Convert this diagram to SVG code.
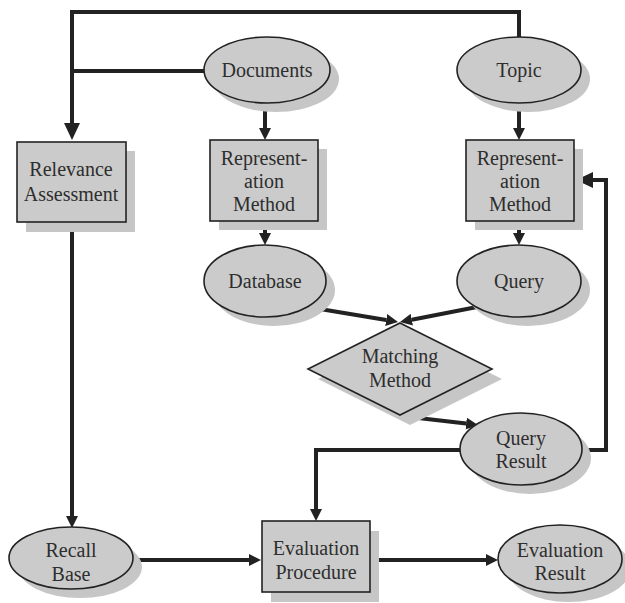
<svg xmlns="http://www.w3.org/2000/svg" width="625" height="603" viewBox="0 0 625 603">
  <defs>
    <style>
      .shape { fill: #cbcbcb; stroke: #222; stroke-width: 1.6; }
      .shadow { fill: #c6c6c6; stroke: none; }
      text { font-family: 'Liberation Serif', 'DejaVu Serif', serif; font-size: 20px; fill: #2e2e2e; text-anchor: middle; }
      .wire { fill: none; stroke: #222; stroke-width: 4; stroke-linejoin: miter; }
    </style>
    <marker id="arrow" markerUnits="userSpaceOnUse" markerWidth="12" markerHeight="12" refX="0" refY="6" orient="auto">
      <path d="M0,0 L12,6 L0,12 Z" fill="#222"/>
    </marker>
    <marker id="arrowBig" markerUnits="userSpaceOnUse" markerWidth="17" markerHeight="16" refX="0" refY="8" orient="auto">
      <path d="M0,0 L17,8 L0,16 Z" fill="#222"/>
    </marker>
  </defs>
  <rect width="625" height="603" fill="#ffffff"/>

  <!-- connectors -->
  <g id="connectors">
    <path class="wire" d="M519,37 V12 H72 V123" marker-end="url(#arrowBig)"/>
    <path class="wire" d="M204,71 H72"/>
    <path class="wire" d="M265,103 V128" marker-end="url(#arrow)"/>
    <path class="wire" d="M519,102 V128" marker-end="url(#arrow)"/>
    <path class="wire" d="M265,221 V233" marker-end="url(#arrow)"/>
    <path class="wire" d="M519,221 V233" marker-end="url(#arrow)"/>
    <path class="wire" d="M308,307 L386.2,320" marker-end="url(#arrow)"/>
    <path class="wire" d="M477,307 L411.8,319.7" marker-end="url(#arrow)"/>
    <path class="wire" d="M401,416 L466.1,423.6" marker-end="url(#arrow)"/>
    <path class="wire" d="M582,450 H606 V180 H593" marker-end="url(#arrowBig)"/>
    <path class="wire" d="M460,450 H316 V509" marker-end="url(#arrow)"/>
    <path class="wire" d="M72,222 V516" marker-end="url(#arrow)"/>
    <path class="wire" d="M133,560 H249" marker-end="url(#arrow)"/>
    <path class="wire" d="M369,560 H486" marker-end="url(#arrow)"/>
  </g>

  <!-- nodes -->
  <g font-family="Liberation Serif, serif">
  <g id="documents">
    <ellipse class="shadow" cx="276" cy="79" rx="63" ry="33"/>
    <ellipse class="shape" cx="267" cy="70" rx="63" ry="33"/>
    <text x="267" y="77">Documents</text>
  </g>
  <g id="topic">
    <ellipse class="shadow" cx="528" cy="79" rx="62" ry="33"/>
    <ellipse class="shape" cx="519" cy="70" rx="62" ry="33"/>
    <text x="519" y="77">Topic</text>
  </g>
  <g id="relevance-assessment">
    <rect class="shadow" x="26" y="151" width="109" height="81"/>
    <rect class="shape" x="17" y="142" width="109" height="80"/>
    <text x="71" y="176">Relevance</text>
    <text x="71" y="201">Assessment</text>
  </g>
  <g id="representation-docs">
    <rect class="shadow" x="219" y="149" width="108" height="81"/>
    <rect class="shape" x="210" y="140" width="108" height="81"/>
    <text x="264" y="165">Represent-</text>
    <text x="264" y="188">ation</text>
    <text x="264" y="211">Method</text>
  </g>
  <g id="representation-topic">
    <rect class="shadow" x="475" y="149" width="108" height="81"/>
    <rect class="shape" x="466" y="140" width="108" height="81"/>
    <text x="520" y="165">Represent-</text>
    <text x="520" y="188">ation</text>
    <text x="520" y="211">Method</text>
  </g>
  <g id="database">
    <ellipse class="shadow" cx="274" cy="290" rx="61" ry="36"/>
    <ellipse class="shape" cx="265" cy="281" rx="61" ry="36"/>
    <text x="265" y="288">Database</text>
  </g>
  <g id="query">
    <ellipse class="shadow" cx="528" cy="290" rx="62" ry="36"/>
    <ellipse class="shape" cx="519" cy="281" rx="62" ry="36"/>
    <text x="519" y="288">Query</text>
  </g>
  <g id="matching-method">
    <polygon class="shadow" points="410,333 502,379 410,425 318,379"/>
    <polygon class="shape" points="400,323 492,369 400,415 308,369"/>
    <text x="400" y="363">Matching</text>
    <text x="400" y="387">Method</text>
  </g>
  <g id="query-result">
    <ellipse class="shadow" cx="530" cy="458" rx="61" ry="36"/>
    <ellipse class="shape" cx="521" cy="449" rx="61" ry="36"/>
    <text x="521" y="445">Query</text>
    <text x="521" y="468">Result</text>
  </g>
  <g id="recall-base">
    <ellipse class="shadow" cx="80" cy="567" rx="62" ry="31"/>
    <ellipse class="shape" cx="71" cy="558" rx="62" ry="31"/>
    <text x="71" y="557">Recall</text>
    <text x="71" y="581">Base</text>
  </g>
  <g id="evaluation-procedure">
    <rect class="shadow" x="271" y="531" width="108" height="71"/>
    <rect class="shape" x="262" y="521" width="108" height="71"/>
    <text x="316" y="555">Evaluation</text>
    <text x="316" y="579">Procedure</text>
  </g>
  <g id="evaluation-result">
    <ellipse class="shadow" cx="569" cy="568" rx="62" ry="34"/>
    <ellipse class="shape" cx="560" cy="559" rx="62" ry="34"/>
    <text x="560" y="557">Evaluation</text>
    <text x="560" y="580">Result</text>
  </g>
  </g>
</svg>
